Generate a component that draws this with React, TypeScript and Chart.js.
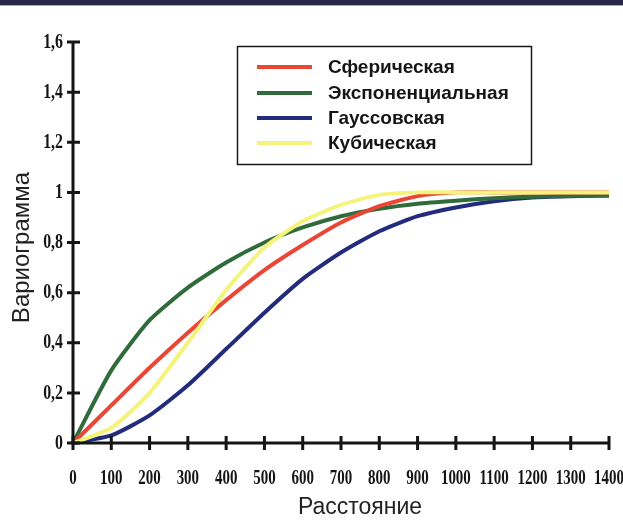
import React, { useEffect, useRef } from 'react';
import { Chart, registerables } from 'chart.js';

Chart.register(...registerables);

// Distances (x) in steps of 100
const distances = [0, 100, 200, 300, 400, 500, 600, 700, 800, 900, 1000, 1100, 1200, 1300, 1400];

// Variogram values
const sphericalValues = [0, 0.15, 0.3, 0.44, 0.57, 0.69, 0.79, 0.88, 0.945, 0.985, 1.0, 1.0, 1.0, 1.0, 1.0];
const exponentialValues = [0, 0.29, 0.49, 0.62, 0.72, 0.8, 0.86, 0.905, 0.935, 0.955, 0.967, 0.977, 0.983, 0.986, 0.988];
const gaussianValues = [0, 0.03, 0.11, 0.23, 0.375, 0.52, 0.655, 0.76, 0.845, 0.905, 0.94, 0.965, 0.98, 0.985, 0.988];
const cubicValues = [0, 0.06, 0.2, 0.4, 0.61, 0.78, 0.885, 0.95, 0.99, 1.0, 1.0, 1.0, 1.0, 1.0, 1.0];

const seriesNames = ['Сферическая', 'Экспоненциальная', 'Гауссовская', 'Кубическая'];
const seriesColors = ['#ea4636', '#2f6b3b', '#232c7c', '#f4f47c'];

const xAxisTitle = 'Расстояние';
const yAxisTitle = 'Вариограмма';
const xMin = 0;
const xMax = 1400;
const xStep = 100;
const yMin = 0;
const yMax = 1.6;
const yStep = 0.2;

const formatX = (v: number) => String(Math.round(v));
const formatY = (v: number) => String(Math.round(v * 10) / 10).replace('.', ',');

const axesPlugin = {
  id: 'axesPlugin',
  afterDatasetsDraw(chart: any) {
    const { ctx } = chart;
    const x = chart.scales.x;
    const y = chart.scales.y;
    const x0 = x.getPixelForValue(xMin);
    const x1 = x.getPixelForValue(xMax);
    const y0 = y.getPixelForValue(yMin);
    const y1 = y.getPixelForValue(yMax);
    ctx.save();
    ctx.strokeStyle = '#151515';
    ctx.lineWidth = 3;
    ctx.beginPath();
    ctx.moveTo(x0 - 1.5, y0);
    ctx.lineTo(x1, y0);
    ctx.moveTo(x0, y0 + 1.5);
    ctx.lineTo(x0, y1);
    ctx.stroke();
    ctx.beginPath();
    x.ticks.forEach((_t: any, i: number) => {
      const px = x.getPixelForTick(i);
      ctx.moveTo(px, y0 - 7);
      ctx.lineTo(px, y0 + 7);
    });
    y.ticks.forEach((_t: any, i: number) => {
      const py = y.getPixelForTick(i);
      ctx.moveTo(x0 - 6, py);
      ctx.lineTo(x0 + 7, py);
    });
    ctx.stroke();

    ctx.fillStyle = '#151515';
    ctx.font = 'bold 22px "Liberation Serif"';
    ctx.textBaseline = 'middle';
    x.ticks.forEach((t: any, i: number) => {
      const px = x.getPixelForTick(i);
      ctx.save();
      ctx.translate(px, y0 + 35);
      ctx.scale(0.68, 1);
      ctx.textAlign = 'center';
      ctx.fillText(String(t.label), 0, 0);
      ctx.restore();
    });
    y.ticks.forEach((t: any, i: number) => {
      const py = y.getPixelForTick(i);
      ctx.save();
      ctx.translate(x0 - 10, py);
      ctx.scale(0.72, 1);
      ctx.textAlign = 'right';
      ctx.fillText(String(t.label), 0, 0);
      ctx.restore();
    });

    // Axis titles
    ctx.fillStyle = '#222';
    ctx.font = '23px "Liberation Sans"';
    ctx.textAlign = 'center';
    ctx.textBaseline = 'middle';
    ctx.fillText(xAxisTitle, (x0 + x1) / 2 + 19, 508);
    ctx.save();
    ctx.translate(22, (y0 + y1) / 2 + 5);
    ctx.rotate(-Math.PI / 2);
    ctx.font = '24px "Liberation Sans"';
    ctx.fillText(yAxisTitle, 0, 0);
    ctx.restore();
    ctx.restore();
  },
  afterDraw(chart: any) {
    const { ctx } = chart;
    ctx.save();
    ctx.strokeStyle = '#1a1a1a';
    ctx.lineWidth = 1.5;
    ctx.strokeRect(237.5, 46.5, 294, 118);
    const rows = [67, 93, 118, 143];
    chart.data.datasets.forEach((ds: any, i: number) => {
      const ry = rows[i];
      ctx.strokeStyle = ds.borderColor;
      ctx.lineWidth = 4;
      ctx.beginPath();
      ctx.moveTo(257, ry);
      ctx.lineTo(312, ry);
      ctx.stroke();
      ctx.fillStyle = '#151515';
      ctx.font = 'bold 19px "Liberation Sans"';
      ctx.textAlign = 'left';
      ctx.textBaseline = 'middle';
      ctx.fillText(ds.label, 328, ry + 1);
    });
    ctx.restore();
  },
};

export default function App() {
  const canvasRef = useRef<HTMLCanvasElement | null>(null);

  useEffect(() => {
    document.body.style.margin = '0';
    const canvas = canvasRef.current;
    if (!canvas) return;
    const seriesValues = [sphericalValues, exponentialValues, gaussianValues, cubicValues];
    const drawOrder = [1, 2, 3, 0];
    const chart = new Chart(canvas, {
      type: 'line',
      data: {
        datasets: seriesValues.map((vals, i) => ({
          label: seriesNames[i],
          data: distances.map((d, j) => ({ x: d, y: vals[j] })),
          borderColor: seriesColors[i],
          backgroundColor: seriesColors[i],
          borderWidth: 4,
          pointRadius: 0,
          tension: 0.2,
          fill: false,
          order: drawOrder[i],
          clip: 6,
        })),
      },
      options: {
        animation: false,
        responsive: false,
        devicePixelRatio: 1,
        layout: { padding: { top: 42, right: 14, left: 0, bottom: 0 } },
        plugins: {
          legend: { display: false },
          tooltip: { enabled: false },
        },
        scales: {
          x: {
            type: 'linear',
            min: xMin,
            max: xMax,
            ticks: { stepSize: xStep, display: false, callback: (v: any) => formatX(Number(v)) },
            grid: { display: false },
            border: { display: false },
            title: { display: false, text: xAxisTitle },
            afterFit: (scale: any) => {
              scale.height = 83;
            },
          },
          y: {
            type: 'linear',
            min: yMin,
            max: yMax,
            ticks: { stepSize: yStep, display: false, callback: (v: any) => formatY(Number(v)) },
            grid: { display: false },
            border: { display: false },
            title: { display: false, text: yAxisTitle },
            afterFit: (scale: any) => {
              scale.width = 73;
            },
          },
        },
      },
      plugins: [axesPlugin],
    });
    return () => chart.destroy();
  }, []);

  return (
    <div style={{ position: 'relative', width: 623, height: 526, background: '#fff' }}>
      <canvas ref={canvasRef} width={623} height={526} style={{ display: 'block' }} />
      <div style={{ position: 'absolute', left: 0, top: 0, width: 623, height: 5, background: '#262646' }} />
      <div style={{ position: 'absolute', left: 0, top: 5, width: 623, height: 1, background: '#a8a8b4' }} />
    </div>
  );
}
